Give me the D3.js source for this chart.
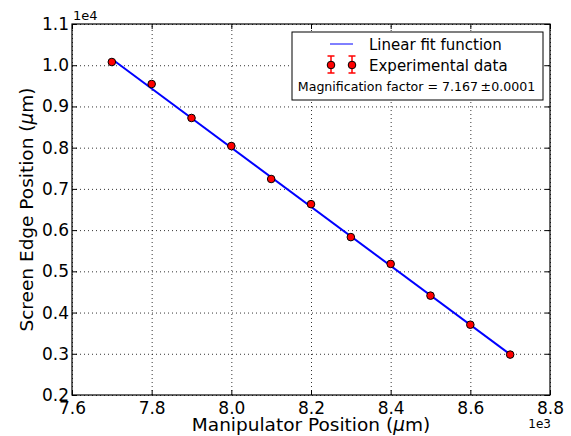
<!DOCTYPE html>
<html>
<head>
<meta charset="utf-8">
<script src="https://cdn.jsdelivr.net/npm/d3@7"></script>
<style>
  body { margin: 0; background: #fff; }
  text { font-family: "DejaVu Sans", sans-serif; }
</style>
</head>
<body>
<div id="wrapper"></div>
<script>
// DATA (manipulator position in um, screen edge position in um)
const manipulator = [7700, 7800, 7900, 8000, 8100, 8200, 8300, 8400, 8500, 8600, 8700]
const screenEdge = [10078, 9544, 8720, 8040, 7240, 6630, 5830, 5180, 4410, 3705, 2980]
const screenErr = [25, 25, 25, 25, 25, 25, 25, 25, 25, 25, 25]
const xTicks = [7600, 7800, 8000, 8200, 8400, 8600, 8800]
const yTicks = [2000, 3000, 4000, 5000, 6000, 7000, 8000, 9000, 10000, 11000]
// linear fit y = slope * x + intercept
const fitSlope = -7.167
const fitIntercept = 65336

function drawChart() {
  const dimensions = {
    width: 571,
    height: 436,
    margin: { top: 24, right: 21, bottom: 41, left: 72 }
  }
  dimensions.boundedWidth = dimensions.width - dimensions.margin.left - dimensions.margin.right
  dimensions.boundedHeight = dimensions.height - dimensions.margin.top - dimensions.margin.bottom

  const wrapper = d3.select('#wrapper')
    .append('svg')
    .attr('width', dimensions.width)
    .attr('height', dimensions.height)

  const bounds = wrapper.append('g')
    .attr('transform', `translate(${dimensions.margin.left},${dimensions.margin.top})`)

  // SCALES
  const xScale = d3.scaleLinear()
    .domain([7600, 8800])
    .range([0, dimensions.boundedWidth])

  const yScale = d3.scaleLinear()
    .domain([2000, 11000])
    .range([dimensions.boundedHeight, 0])

  // gridlines
  bounds.append('g')
    .attr('class', 'grid')
    .attr('transform', `translate(0,${dimensions.boundedHeight})`)
    .call(d3.axisBottom(xScale).tickValues(xTicks).tickSize(-dimensions.boundedHeight).tickFormat(''))
  bounds.append('g')
    .attr('class', 'grid')
    .call(d3.axisLeft(yScale).tickValues(yTicks).tickSize(-dimensions.boundedWidth).tickFormat(''))
  bounds.selectAll('.grid .domain').remove()
  bounds.selectAll('.grid line')
    .attr('stroke', '#000')
    .attr('stroke-width', 0.8)
    .attr('stroke-dasharray', '1,3')

  // AXES (inward ticks on all four sides)
  const fmtX = d => (d / 1000).toFixed(1)
  const fmtY = d => (d / 10000).toFixed(1)

  const xAxis = bounds.append('g')
    .attr('transform', `translate(0,${dimensions.boundedHeight})`)
    .call(d3.axisBottom(xScale).tickValues(xTicks).tickSizeInner(-5).tickSizeOuter(0).tickPadding(7).tickFormat(fmtX))
  const yAxis = bounds.append('g')
    .call(d3.axisLeft(yScale).tickValues(yTicks).tickSizeInner(-5).tickSizeOuter(0).tickPadding(3).tickFormat(fmtY))
  bounds.append('g')
    .call(d3.axisTop(xScale).tickValues(xTicks).tickSizeInner(-5).tickSizeOuter(0).tickFormat(''))
  bounds.append('g')
    .attr('transform', `translate(${dimensions.boundedWidth},0)`)
    .call(d3.axisRight(yScale).tickValues(yTicks).tickSizeInner(-5).tickSizeOuter(0).tickFormat(''))

  bounds.selectAll('.domain').remove()
  bounds.selectAll('.tick line').filter(function () { return !this.closest('.grid') })
    .attr('stroke', '#000').attr('stroke-width', 1)
  xAxis.selectAll('text').style('font-size', '17px').attr('fill', '#000').attr('dy', '0.71em')
  yAxis.selectAll('text').style('font-size', '17px').attr('fill', '#000')

  // frame
  bounds.append('rect')
    .attr('width', dimensions.boundedWidth)
    .attr('height', dimensions.boundedHeight)
    .attr('fill', 'none')
    .attr('stroke', '#000')
    .attr('stroke-width', 1.2)

  // FIT LINE
  const fitDomain = d3.extent(manipulator)
  const lineGenerator = d3.line()
    .x(d => xScale(d))
    .y(d => yScale(fitSlope * d + fitIntercept))
  bounds.append('path')
    .attr('d', lineGenerator(fitDomain))
    .attr('fill', 'none')
    .attr('stroke', '#0000ff')
    .attr('stroke-width', 2)

  // DATA POINTS with error bars
  const points = manipulator.map((x, i) => ({ x, y: screenEdge[i], e: screenErr[i] }))
  const pts = bounds.append('g').selectAll('g').data(points).join('g')
  pts.append('line')
    .attr('x1', d => xScale(d.x)).attr('x2', d => xScale(d.x))
    .attr('y1', d => yScale(d.y - d.e)).attr('y2', d => yScale(d.y + d.e))
    .attr('stroke', 'red').attr('stroke-width', 1.5)
  pts.append('circle')
    .attr('cx', d => xScale(d.x))
    .attr('cy', d => yScale(d.y))
    .attr('r', 3.8)
    .attr('fill', 'red')
    .attr('stroke', '#000')
    .attr('stroke-width', 1)

  // LEGEND
  const legend = bounds.append('g')
    .attr('transform', 'translate(220,8)')
  legend.append('rect')
    .attr('width', 251).attr('height', 68)
    .attr('fill', '#fff').attr('stroke', '#000').attr('stroke-width', 1)
  legend.append('line')
    .attr('x1', 38).attr('x2', 61).attr('y1', 12).attr('y2', 12)
    .attr('stroke', '#0000ff').attr('stroke-width', 1)
  legend.append('text')
    .attr('x', 77).attr('y', 17.5)
    .style('font-size', '15px')
    .text('Linear fit function')
  ;[39, 60].forEach(cx => {
    const g = legend.append('g')
    g.append('line').attr('x1', cx).attr('x2', cx).attr('y1', 24).attr('y2', 41)
      .attr('stroke', 'red').attr('stroke-width', 1.5)
    g.append('line').attr('x1', cx - 3.5).attr('x2', cx + 3.5).attr('y1', 24).attr('y2', 24)
      .attr('stroke', 'red').attr('stroke-width', 1.5)
    g.append('line').attr('x1', cx - 3.5).attr('x2', cx + 3.5).attr('y1', 41).attr('y2', 41)
      .attr('stroke', 'red').attr('stroke-width', 1.5)
    g.append('circle').attr('cx', cx).attr('cy', 33).attr('r', 3.8)
      .attr('fill', 'red').attr('stroke', '#000').attr('stroke-width', 1)
  })
  legend.append('text')
    .attr('x', 77).attr('y', 38.5)
    .style('font-size', '15px')
    .text('Experimental data')
  legend.append('text')
    .attr('x', 124.5).attr('y', 59)
    .attr('text-anchor', 'middle')
    .style('font-size', '12.6px')
    .text('Magnification factor = 7.167\u2009\u00b10.0001')

  // AXIS LABELS and offsets
  wrapper.append('text')
    .attr('x', dimensions.margin.left + dimensions.boundedWidth / 2)
    .attr('y', 431)
    .attr('text-anchor', 'middle')
    .style('font-size', '18.5px')
    .html('Manipulator Position (<tspan font-style="italic">\u03bc</tspan>m)')

  wrapper.append('text')
    .attr('transform', `translate(33,${dimensions.margin.top + dimensions.boundedHeight / 2}) rotate(-90)`)
    .attr('text-anchor', 'middle')
    .style('font-size', '18.5px')
    .html('Screen Edge Position (<tspan font-style="italic">\u03bc</tspan>m)')

  wrapper.append('text')
    .attr('x', 73).attr('y', 20)
    .style('font-size', '13px')
    .text('1e4')
  wrapper.append('text')
    .attr('x', 551).attr('y', 428)
    .attr('text-anchor', 'end')
    .style('font-size', '12px')
    .text('1e3')
}

drawChart()
</script>
</body>
</html>
